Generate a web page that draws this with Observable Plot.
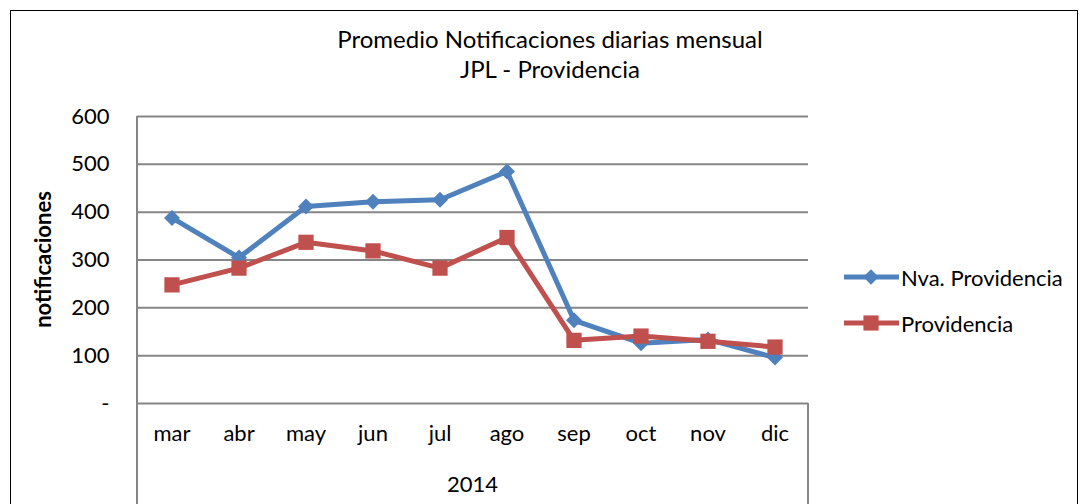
<!DOCTYPE html>
<html>
<head>
<meta charset="utf-8">
<script src="https://cdn.jsdelivr.net/npm/d3@7"></script>
<script src="https://cdn.jsdelivr.net/npm/@observablehq/plot@0.6"></script>
<style>
  html, body { margin: 0; padding: 0; background: #fff; }
  #wrap { position: relative; width: 1082px; height: 504px; overflow: hidden; font-family: Lato, "Open Sans", sans-serif; color: #000; }
  #border { position: absolute; left: 10px; top: 10px; width: 1068px; height: 520px; border: 1.5px solid #000; box-sizing: border-box; }
  #title { position: absolute; left: 0; top: 24px; width: 1100px; text-align: center; font-size: 24px; line-height: 30px; }
  #chart { position: absolute; left: 0; top: 0; }
  #legend { position: absolute; left: 844px; top: 254px; font-size: 22px; }
  #legend .item { display: flex; align-items: center; height: 46px; }
  #legend svg { margin-right: 1px; }
  #year { position: absolute; left: 137px; width: 671px; top: 470px; text-align: center; font-size: 22px; }
</style>
</head>
<body>
<div id="wrap">
  <div id="border"></div>
  <div id="title">Promedio Notificaciones diarias mensual<br>JPL - Providencia</div>
  <div id="chart"></div>
  <div id="legend"></div>
  <div id="year"></div>
</div>
<script>
const months = ["mar", "abr", "may", "jun", "jul", "ago", "sep", "oct", "nov", "dic"];
const yearLabel = "2014";
const seriesNames = ["Nva. Providencia", "Providencia"];
const nvaProvidencia = [388, 305, 412, 422, 426, 485, 174, 126, 134, 96];
const providencia = [248, 283, 337, 319, 283, 347, 132, 141, 130, 118];
const yTicks = [0, 100, 200, 300, 400, 500, 600];
const colors = ["#4F81BD", "#C0504D"];
const symbols = ["diamond2", "square"];

const data = [];
[nvaProvidencia, providencia].forEach((vals, si) => {
  vals.forEach((v, i) => data.push({series: seriesNames[si], month: months[i], value: v}));
});

const W = 1082, H = 504;
const mL = 137, mR = 274, mT = 116, mB = 101;

const plot = Plot.plot({
  width: W,
  height: H,
  marginLeft: mL,
  marginRight: mR,
  marginTop: mT,
  marginBottom: mB,
  style: {fontFamily: "Lato, 'Open Sans', sans-serif", fontSize: "22px", background: "transparent", color: "#000"},
  x: {type: "band", domain: months, padding: 0, label: null},
  y: {domain: [0, 600], label: null},
  color: {domain: seriesNames, range: colors},
  symbol: {domain: seriesNames, range: symbols},
  marks: [
    Plot.gridY(yTicks, {stroke: "#868686", strokeOpacity: 1, strokeWidth: 2}),
    Plot.axisY({ticks: yTicks, tickSize: 0, tickPadding: 28, fontSize: 22, tickFormat: d => d === 0 ? "-" : d3.format("d")(d), label: null}),
    Plot.axisX({tickSize: 0, tickPadding: 22, fontSize: 22, label: null}),
    Plot.line(data, {x: "month", y: "value", z: "series", stroke: "series", strokeWidth: 5}),
    Plot.dot(data.filter(d => d.series === seriesNames[0]), {x: "month", y: "value", symbol: "series", fill: "series", r: 7.2, stroke: null}),
    Plot.dot(data.filter(d => d.series === seriesNames[1]), {x: "month", y: "value", symbol: "series", fill: "series", r: 8.6, stroke: null})
  ]
});

// frame lines: left value-axis line and the category box edges
const svg = d3.select(plot);
const xs = plot.scale("x");
const left = xs.range[0], right = xs.range[1];
svg.append("line").attr("x1", left).attr("x2", left).attr("y1", mT).attr("y2", H)
  .attr("stroke", "#868686").attr("stroke-width", 2);
svg.append("line").attr("x1", right).attr("x2", right).attr("y1", H - mB).attr("y2", H)
  .attr("stroke", "#868686").attr("stroke-width", 2);
// y axis title
svg.append("text").attr("transform", `translate(45,${mT + (H - mB - mT) / 2}) rotate(-90)`)
  .attr("text-anchor", "middle").attr("dominant-baseline", "middle")
  .attr("font-size", 22).attr("font-weight", "bold").attr("font-family", "Lato, 'Open Sans', sans-serif")
  .text("notificaciones");

document.getElementById("chart").appendChild(plot);
document.getElementById("year").textContent = yearLabel;

// legend
const leg = d3.select("#legend");
seriesNames.forEach((name, i) => {
  const item = leg.append("div").attr("class", "item");
  const s = item.append("svg").attr("width", 56).attr("height", 20);
  s.append("line").attr("x1", 0).attr("x2", 55).attr("y1", 10).attr("y2", 10)
    .attr("stroke", colors[i]).attr("stroke-width", 5);
  s.append("path").attr("transform", "translate(27,10)")
    .attr("d", d3.symbol(i === 0 ? d3.symbolDiamond2 : d3.symbolSquare, i === 0 ? 150 : 230)())
    .attr("fill", colors[i]);
  item.append("span").text(name);
});
</script>
</body>
</html>
